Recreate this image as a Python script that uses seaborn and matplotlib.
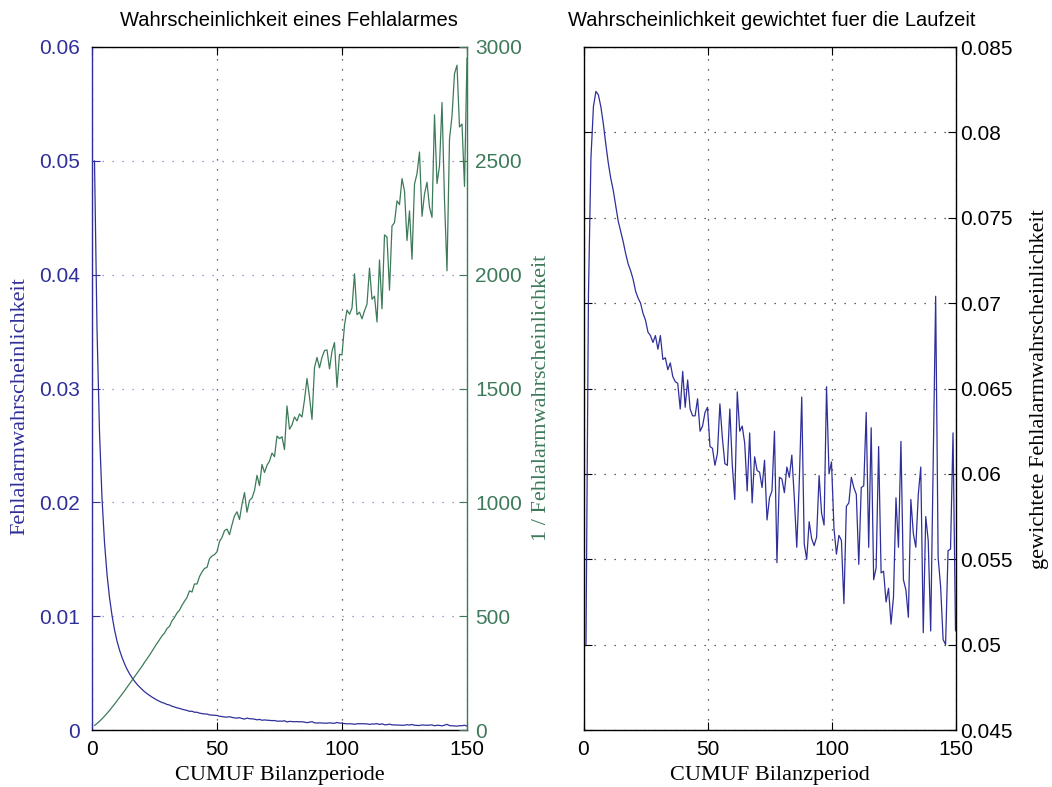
import matplotlib
matplotlib.use("Agg")
import matplotlib.pyplot as plt
import seaborn as sns
import pandas as pd

# ---------------- data ----------------
periods = list(range(1, 151))

# weighted false-alarm probability (right panel)
weighted_prob = [
    0.0500, 0.0705, 0.0785, 0.0815, 0.0824, 0.0822, 0.0815, 0.0805, 0.0793, 0.0782,
    0.0773, 0.0766, 0.0757, 0.0748, 0.0742, 0.0736, 0.0729, 0.0723, 0.0719, 0.0714,
    0.0707, 0.0703, 0.0700, 0.0694, 0.0690, 0.0683, 0.0681, 0.0677, 0.0681, 0.0673,
    0.0681, 0.0667, 0.0668, 0.0661, 0.0665, 0.0657, 0.0654, 0.0653, 0.0638, 0.0660,
    0.0639, 0.0655, 0.0638, 0.0634, 0.0634, 0.0644, 0.0625, 0.0628, 0.0636, 0.0639,
    0.0616, 0.0615, 0.0605, 0.0612, 0.0641, 0.0621, 0.0606, 0.0605, 0.0638, 0.0605,
    0.0585, 0.0648, 0.0625, 0.0628, 0.0618, 0.0590, 0.0624, 0.0583, 0.0610, 0.0602,
    0.0601, 0.0592, 0.0608, 0.0573, 0.0586, 0.0590, 0.0625, 0.0548, 0.0598, 0.0597,
    0.0589, 0.0604, 0.0598, 0.0611, 0.0586, 0.0557, 0.0595, 0.0645, 0.0559, 0.0550,
    0.0572, 0.0562, 0.0558, 0.0563, 0.0599, 0.0577, 0.0570, 0.0651, 0.0600, 0.0607,
    0.0568, 0.0553, 0.0564, 0.0561, 0.0524, 0.0581, 0.0583, 0.0598, 0.0592, 0.0588,
    0.0547, 0.0592, 0.0593, 0.0636, 0.0557, 0.0627, 0.0538, 0.0545, 0.0616, 0.0542,
    0.0543, 0.0525, 0.0533, 0.0512, 0.0528, 0.0586, 0.0557, 0.0619, 0.0538, 0.0532,
    0.0516, 0.0585, 0.0565, 0.0557, 0.0588, 0.0604, 0.0507, 0.0575, 0.0561, 0.0508,
    0.0606, 0.0704, 0.0551, 0.0534, 0.0503, 0.0500, 0.0555, 0.0556, 0.0624, 0.0508,
]
# the chart's definitions: weighted = p * period, right axis of left panel = 1 / p
false_alarm_prob = [w / x for w, x in zip(weighted_prob, periods)]
inverse_prob = [1.0 / p for p in false_alarm_prob]

x_ticks = [0, 50, 100, 150]
p_ticks = [0, 0.01, 0.02, 0.03, 0.04, 0.05, 0.06]
p_tick_labels = ["0", "0.01", "0.02", "0.03", "0.04", "0.05", "0.06"]
inv_ticks = [0, 500, 1000, 1500, 2000, 2500, 3000]
w_ticks = [0.045, 0.05, 0.055, 0.06, 0.065, 0.07, 0.075, 0.08, 0.085]
w_tick_labels = ["0.045", "0.05", "0.055", "0.06", "0.065", "0.07", "0.075", "0.08", "0.085"]

title_left = "Wahrscheinlichkeit eines Fehlalarmes"
title_right = "Wahrscheinlichkeit gewichtet fuer die Laufzeit"
xlabel_left = "CUMUF Bilanzperiode"
xlabel_right = "CUMUF Bilanzperiod"
ylabel_p = "Fehlalarmwahrscheinlichkeit"
ylabel_inv = "1 / Fehlalarmwahrscheinlichkeit"
ylabel_w = "gewichtete Fehlalarmwahrscheinlichkeit"

df = pd.DataFrame({"period": periods, "p": false_alarm_prob,
                   "inv": inverse_prob, "w": weighted_prob})

# ---------------- style ----------------
sns.set_theme(style="white")
plt.rcParams["font.family"] = ["Liberation Sans", "DejaVu Sans"]

BLUE = "#2f2f9a"
GREEN = "#3d7a5a"
SANS = ["Liberation Sans", "DejaVu Sans"]
SERIF = ["Liberation Serif", "DejaVu Serif"]
TICK_FS = 15
DOT = (0, (1, 7))

fig = plt.figure(figsize=(10.52, 7.87), dpi=100)
W, H = 1052, 787

def rect(x0, x1, y0, y1):
    return [x0 / W, (H - y1) / H, (x1 - x0) / W, (y1 - y0) / H]

# ---------------- left panel ----------------
ax1 = fig.add_axes(rect(92, 467, 47, 730))
ax2 = ax1.twinx()

sns.lineplot(data=df, x="period", y="p", ax=ax1, color=BLUE, linewidth=0.9,
             estimator=None, sort=False)
sns.lineplot(data=df, x="period", y="inv", ax=ax2, color=GREEN, linewidth=0.9,
             estimator=None, sort=False)

ax1.set_xlim(0, 150)
ax1.set_ylim(0, 0.06)
ax2.set_ylim(0, 3000)
ax1.set_xticks(x_ticks)
ax1.set_xticklabels([str(t) for t in x_ticks], fontsize=TICK_FS, family=SANS)
ax1.set_yticks(p_ticks)
ax1.set_yticklabels(p_tick_labels, fontsize=TICK_FS, family=SANS)
ax2.set_yticks(inv_ticks)
ax2.set_yticklabels([str(t) for t in inv_ticks], fontsize=TICK_FS, family=SANS)

ax1.tick_params(axis="x", direction="in", top=True, bottom=True, length=6,
                width=0.8, colors="black", pad=7)
ax1.tick_params(axis="y", direction="in", left=True, right=False, length=6,
                width=0.8, colors=BLUE, pad=9)
ax2.tick_params(axis="y", direction="in", right=True, left=False, length=6,
                width=0.8, colors=GREEN, pad=6)

ax1.yaxis.grid(True, color="#7a7ad6", linestyle=DOT, linewidth=0.9)
ax1.xaxis.grid(True, color="#333333", linestyle=DOT, linewidth=0.9)
ax2.grid(False)

for s in ["top", "bottom"]:
    ax1.spines[s].set_color("black")
    ax1.spines[s].set_linewidth(1.0)
ax1.spines["left"].set_color(BLUE)
ax1.spines["left"].set_linewidth(1.0)
ax1.spines["right"].set_visible(False)
for s in ["top", "bottom", "left"]:
    ax2.spines[s].set_visible(False)
ax2.spines["right"].set_color(GREEN)
ax2.spines["right"].set_linewidth(1.0)

ax1.set_xlabel(xlabel_left, fontsize=16, family=SERIF, color="black", labelpad=5)
ax1.set_ylabel(ylabel_p, fontsize=16, family=SERIF, color=BLUE, va="center")
ax1.yaxis.set_label_coords(-0.192, 0.474)
ax2.set_ylabel(ylabel_inv, fontsize=16, family=SERIF, color=GREEN, va="center",
               rotation=90)
ax2.yaxis.set_label_coords(1.2, 0.486)
ax1.set_title(title_left, fontsize=14.5, family=SANS, color="black", pad=15, x=0.524)

# ---------------- right panel ----------------
ax3 = fig.add_axes(rect(583.5, 955.5, 47, 730))
sns.lineplot(data=df, x="period", y="w", ax=ax3, color=BLUE, linewidth=0.9,
             estimator=None, sort=False)
ax3.set_xlim(0, 150)
ax3.set_ylim(0.045, 0.085)
ax3.set_xticks(x_ticks)
ax3.set_xticklabels([str(t) for t in x_ticks], fontsize=TICK_FS, family=SANS)
ax3.yaxis.tick_right()
ax3.set_yticks(w_ticks)
ax3.set_yticklabels(w_tick_labels, fontsize=TICK_FS, family=SANS)
ax3.tick_params(axis="x", direction="in", top=True, bottom=True, length=6,
                width=0.8, colors="black", pad=7)
ax3.tick_params(axis="y", direction="in", left=True, right=True, labelleft=False,
                labelright=True, length=6, width=0.8, colors="black", pad=3)
ax3.grid(True, color="#333333", linestyle=DOT, linewidth=0.9)
for s in ax3.spines.values():
    s.set_color("black")
    s.set_linewidth(1.0)
ax3.set_xlabel(xlabel_right, fontsize=16, family=SERIF, color="black", labelpad=5)
ax3.yaxis.set_label_position("right")
ax3.set_ylabel(ylabel_w, fontsize=16, family=SERIF, color="black", va="center",
               rotation=90)
ax3.yaxis.set_label_coords(1.227, 0.499)
ax3.set_title(title_right, fontsize=14.5, family=SANS, color="black", pad=15, x=0.505)

fig.patch.set_facecolor("white")
fig.savefig("out.png", dpi=100, facecolor="white")
